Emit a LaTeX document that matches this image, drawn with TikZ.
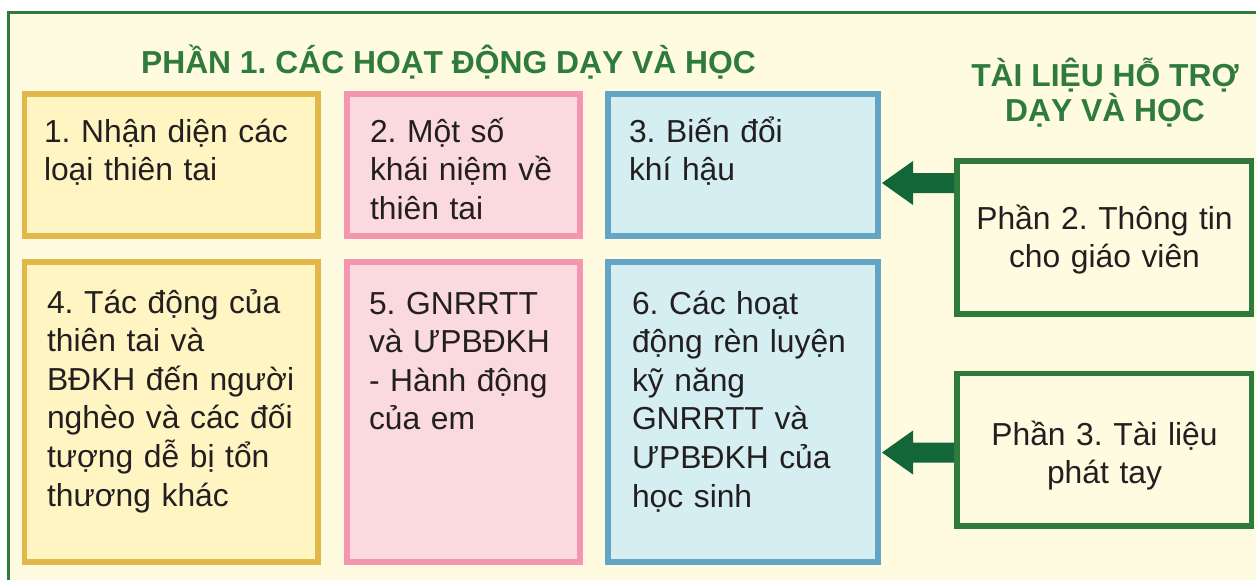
\documentclass[tikz,border=0pt]{standalone}
\usepackage{fontspec}
\setmainfont{Liberation Sans}
\usetikzlibrary{arrows.meta}
\definecolor{cream}{HTML}{FFFBE0}
\definecolor{frgreen}{HTML}{2E7B3B}
\definecolor{argreen}{HTML}{12663A}
\definecolor{goldb}{HTML}{E2B84B}
\definecolor{goldf}{HTML}{FFF5C3}
\definecolor{pinkb}{HTML}{F595B0}
\definecolor{pinkf}{HTML}{FADADF}
\definecolor{blueb}{HTML}{64A5C6}
\definecolor{bluef}{HTML}{D5EEF2}
\definecolor{txtc}{HTML}{231F20}
\newcommand\bodyfs{\fontsize{31.8}{38.6}\selectfont\frenchspacing}
\newcommand\firststrut{\rule{0pt}{34pt}}
\tikzset{
  box/.style={rectangle, line width=5.3pt, inner sep=0pt, outer sep=0pt, anchor=north west},
  goldbox/.style={box, draw=goldb, fill=goldf},
  pinkbox/.style={box, draw=pinkb, fill=pinkf},
  bluebox/.style={box, draw=blueb, fill=bluef},
  greenbox/.style={box, draw=frgreen, fill=cream},
  body/.style={inner sep=0pt, outer sep=0pt, anchor=north west, text=txtc, font=\bodyfs, text width=280pt, align=left},
  cbody/.style={inner sep=0pt, outer sep=0pt, anchor=north, text=txtc, font=\bodyfs, text width=290pt, align=center},
  ttl/.style={inner sep=0pt, outer sep=0pt, text=frgreen, font=\fontsize{31.8}{35}\selectfont\bfseries\frenchspacing},
  bigarrow/.style={fill=argreen}
}
\begin{document}
\begin{tikzpicture}[x=1pt,y=-1pt]
\useasboundingbox (0,0) rectangle (1256,579);
\clip (0,0) rectangle (1256,579);
\fill[white] (0,0) rectangle (1256,579);
\draw[line width=3pt, draw=frgreen, fill=cream] (8.2,12.5) rectangle (1290,620);

% titles
\node[ttl, anchor=base] (title1) at (448.5,73) {PHẦN 1. CÁC HOẠT ĐỘNG DẠY VÀ HỌC};
\node[ttl, anchor=north, align=center] (title2) at (1105,52.5) {\firststrut TÀI LIỆU HỖ TRỢ\\ DẠY VÀ HỌC};

% row 1
\node[goldbox, minimum width=293.5pt, minimum height=142pt] (b1) at (24.5,94) {};
\node[pinkbox, minimum width=233pt, minimum height=142pt] (b2) at (347,94) {};
\node[bluebox, minimum width=270pt, minimum height=142pt] (b3) at (608,94) {};
% row 2
\node[goldbox, minimum width=293.5pt, minimum height=300pt] (b4) at (24.5,262) {};
\node[pinkbox, minimum width=233pt, minimum height=300pt] (b5) at (347,262) {};
\node[bluebox, minimum width=270pt, minimum height=300pt] (b6) at (608,262) {};

% texts
\node[body] (t1) at (44,108) {\firststrut 1. Nhận diện các\\ loại thiên tai};
\node[body] (t2) at (370,108) {\firststrut 2. Một số\\ khái niệm về\\ thiên tai};
\node[body] (t3) at (629,108) {\firststrut 3. Biến đổi\\ khí hậu};
\node[body] (t4) at (47,279) {\firststrut 4. Tác động của\\ thiên tai và\\ BĐKH đến người\\ nghèo và các đối\\ tượng dễ bị tổn\\ thương khác};
\node[body] (t5) at (369,280) {\firststrut 5. GNRRTT\\ và ƯPBĐKH\\ - Hành động\\ của em};
\node[body] (t6) at (632,280) {\firststrut 6. Các hoạt\\ động rèn luyện\\ kỹ năng\\ GNRRTT và\\ ƯPBĐKH của\\ học sinh};

% right boxes
\coordinate (a1) at (900,183);
\coordinate (a2) at (900,452.5);
\node[greenbox, minimum width=294.7pt, minimum height=153pt] (p2) at (957,161) {};
\node[greenbox, minimum width=294.7pt, minimum height=152.7pt] (p3) at (957,373.3) {};
% block arrows from the green boxes towards the blue boxes
\fill[bigarrow] (p2.west |- a1) ++(0,-10) -- ++(-44,0) -- ++(0,-12) -- ++(-31,22) -- ++(31,22) -- ++(0,-12) -- ++(44,0) -- cycle;
\fill[bigarrow] (p3.west |- a2) ++(0,-10) -- ++(-44,0) -- ++(0,-12) -- ++(-31,22) -- ++(31,22) -- ++(0,-12) -- ++(44,0) -- cycle;
\draw[line width=5.3pt, draw=frgreen] (p2.north west) rectangle (p2.south east);
\draw[line width=5.3pt, draw=frgreen] (p3.north west) rectangle (p3.south east);

\node[cbody] (t7) at (1104.5,195) {\firststrut Phần 2. Thông tin\\ cho giáo viên};
\node[cbody] (t8) at (1104.5,411) {\firststrut Phần 3. Tài liệu\\ phát tay};
\end{tikzpicture}
\end{document}
